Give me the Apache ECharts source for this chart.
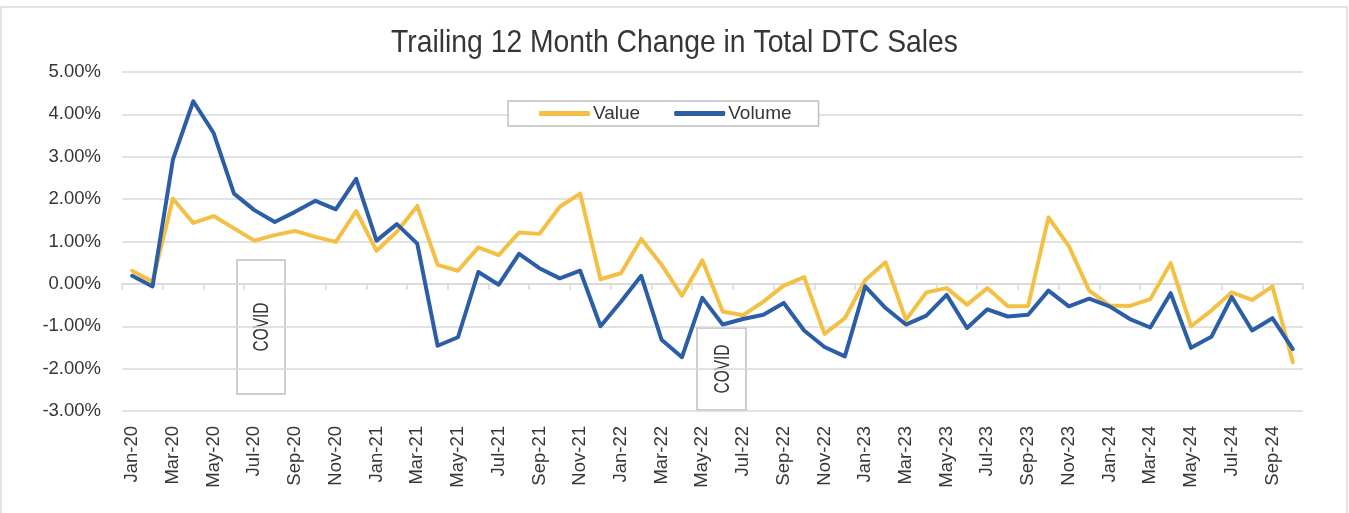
<!DOCTYPE html>
<html>
<head>
<meta charset="utf-8">
<script src="https://cdn.jsdelivr.net/npm/echarts@6/dist/echarts.min.js"></script>
<style>
html,body{margin:0;padding:0;background:#fff;}
#chart{width:1349px;height:513px;}
</style>
</head>
<body>
<div id="chart"></div>
<script>
const months = [
  'Jan-20','Feb-20','Mar-20','Apr-20','May-20','Jun-20','Jul-20','Aug-20','Sep-20','Oct-20','Nov-20','Dec-20',
  'Jan-21','Feb-21','Mar-21','Apr-21','May-21','Jun-21','Jul-21','Aug-21','Sep-21','Oct-21','Nov-21','Dec-21',
  'Jan-22','Feb-22','Mar-22','Apr-22','May-22','Jun-22','Jul-22','Aug-22','Sep-22','Oct-22','Nov-22','Dec-22',
  'Jan-23','Feb-23','Mar-23','Apr-23','May-23','Jun-23','Jul-23','Aug-23','Sep-23','Oct-23','Nov-23','Dec-23',
  'Jan-24','Feb-24','Mar-24','Apr-24','May-24','Jun-24','Jul-24','Aug-24','Sep-24','Oct-24'
];
const valueSeries = [
  0.31, 0.05, 2.01, 1.44, 1.60, 1.31, 1.02, 1.15, 1.25, 1.11, 0.99, 1.72,
  0.78, 1.23, 1.84, 0.45, 0.31, 0.86, 0.68, 1.21, 1.18, 1.82, 2.13, 0.11,
  0.25, 1.06, 0.45, -0.28, 0.56, -0.65, -0.74, -0.42, -0.04, 0.16, -1.18, -0.81,
  0.09, 0.51, -0.85, -0.20, -0.10, -0.49, -0.10, -0.53, -0.52, 1.57, 0.89, -0.16,
  -0.51, -0.52, -0.36, 0.49, -1.00, -0.63, -0.20, -0.38, -0.06, -1.85
];
const volumeSeries = [
  0.19, -0.06, 2.93, 4.31, 3.56, 2.13, 1.74, 1.46, 1.70, 1.96, 1.76, 2.48,
  1.02, 1.41, 0.95, -1.46, -1.26, 0.28, -0.02, 0.71, 0.37, 0.13, 0.31, -1.00,
  -0.42, 0.19, -1.32, -1.73, -0.33, -0.96, -0.83, -0.73, -0.45, -1.10, -1.49, -1.71,
  -0.06, -0.57, -0.96, -0.75, -0.26, -1.04, -0.60, -0.77, -0.73, -0.16, -0.53, -0.35,
  -0.53, -0.83, -1.03, -0.22, -1.51, -1.25, -0.31, -1.10, -0.81, -1.54
];
const yTicks = [-3, -2, -1, 0, 1, 2, 3, 4, 5];
const titleText = 'Trailing 12 Month Change in Total DTC Sales';
const seriesNames = ['Value', 'Volume'];
const annotationText = 'COVID';

const SANS = '"Liberation Sans", Arial, sans-serif';
const YELLOW = '#F3C044';
const BLUE = '#2B5EA6';
const GRID = '#d9d9d9';
const TEXT = '#363636';

// measure helper to emulate a condensed face by horizontal scaling
const mctx = document.createElement('canvas').getContext('2d');
function textWidth(txt, size) {
  mctx.font = size + 'px ' + SANS;
  return mctx.measureText(txt).width;
}
const titleScale = 567 / textWidth(titleText, 32);
const covidScale = 49 / textWidth(annotationText, 22);

const chart = echarts.init(document.getElementById('chart'), null, {renderer: 'canvas'});

function covidBox(x, y, w, h) {
  return {
    type: 'group',
    z: 5,
    children: [
      {type: 'rect', shape: {x: x, y: y, width: w, height: h},
       style: {fill: '#fff', stroke: '#bfbfbf', lineWidth: 1.5}},
      {type: 'text', x: x + w / 2 + 1, y: y + h / 2, rotation: Math.PI / 2, scaleX: covidScale,
       style: {text: annotationText, font: '22px ' + SANS, fill: TEXT,
               align: 'center', verticalAlign: 'middle'}}
    ]
  };
}

const option = {
  backgroundColor: '#fff',
  animation: false,
  legend: {
    data: seriesNames,
    left: 508,
    top: 101,
    padding: [3, 27, 3, 31],
    itemGap: 34,
    itemWidth: 51,
    itemHeight: 5,
    icon: 'roundRect',
    borderColor: '#bfbfbf',
    borderWidth: 1.5,
    borderRadius: 0,
    backgroundColor: '#fff',
    textStyle: {fontFamily: SANS, fontSize: 19, color: TEXT, padding: [0, 0, 0, -2]}
  },
  grid: {left: 122, right: 46, top: 72, bottom: 102, containLabel: false},
  xAxis: [
    {
      type: 'category',
      data: months,
      boundaryGap: true,
      position: 'bottom',
      axisLine: {onZero: true, lineStyle: {color: GRID, width: 1.5}},
      axisTick: {show: true, interval: 1, length: 6, lineStyle: {color: GRID, width: 1.5}},
      axisLabel: {show: false},
      splitLine: {show: false}
    },
    {
      type: 'category',
      data: months,
      boundaryGap: true,
      position: 'bottom',
      axisLine: {show: false, onZero: false},
      axisTick: {show: false},
      axisLabel: {show: true, interval: 1, rotate: 90, margin: 15,
                  fontFamily: SANS, fontSize: 18.5, color: TEXT},
      splitLine: {show: false}
    }
  ],
  yAxis: {
    type: 'value',
    min: yTicks[0],
    max: yTicks[yTicks.length - 1],
    interval: 1,
    axisLine: {show: false},
    axisTick: {show: false},
    axisLabel: {margin: 21, fontFamily: SANS, fontSize: 18.5, color: TEXT,
                formatter: v => v.toFixed(2) + '%'},
    splitLine: {lineStyle: {color: GRID, width: 1.5}}
  },
  series: [
    {
      name: seriesNames[0], type: 'line', xAxisIndex: 0, data: valueSeries,
      showSymbol: false, symbol: 'none', z: 3,
      lineStyle: {color: YELLOW, width: 4, join: 'round', cap: 'round'},
      itemStyle: {color: YELLOW}
    },
    {
      name: seriesNames[1], type: 'line', xAxisIndex: 0, data: volumeSeries,
      showSymbol: false, symbol: 'none', z: 4,
      lineStyle: {color: BLUE, width: 4, join: 'round', cap: 'round'},
      itemStyle: {color: BLUE}
    }
  ],
  graphic: [
    {type: 'rect', z: -10, silent: true, shape: {x: 1, y: 7, width: 1346, height: 520},
     style: {fill: 'none', stroke: GRID, lineWidth: 1.5}},
    {type: 'text', x: 674.5, y: 43, scaleX: titleScale, z: 10,
     style: {text: titleText, font: '32px ' + SANS, fill: TEXT,
             align: 'center', verticalAlign: 'middle'}},
    covidBox(237, 260, 48, 134),
    covidBox(697, 328, 49, 82)
  ]
};
chart.setOption(option);
</script>
</body>
</html>
